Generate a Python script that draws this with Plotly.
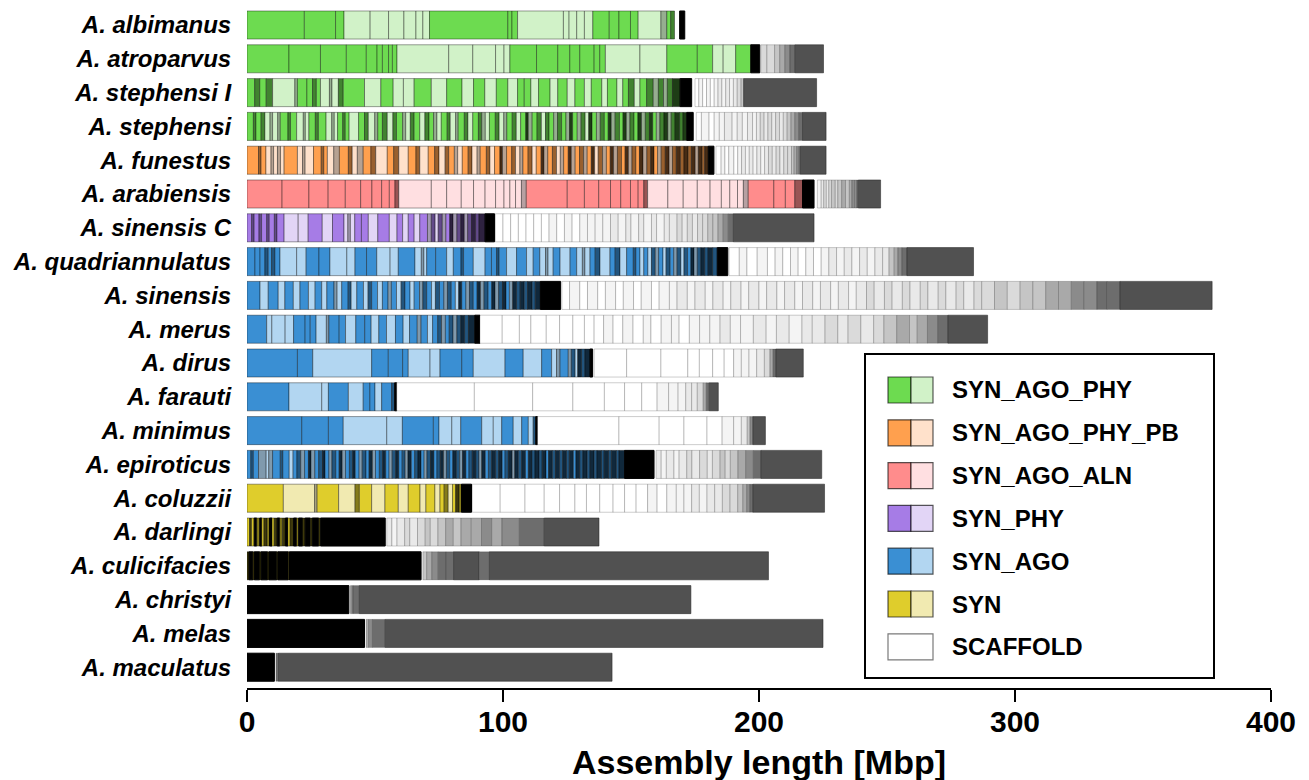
import plotly.graph_objects as go

# ---------------------------------------------------------------- data
SPECIES = [
    "A. albimanus", "A. atroparvus", "A. stephensi I", "A. stephensi",
    "A. funestus", "A. arabiensis", "A. sinensis C", "A. quadriannulatus",
    "A. sinensis", "A. merus", "A. dirus", "A. farauti", "A. minimus",
    "A. epiroticus", "A. coluzzii", "A. darlingi", "A. culicifacies",
    "A. christyi", "A. melas", "A. maculatus",
]
GROUP = [
    "SYN_AGO_PHY", "SYN_AGO_PHY", "SYN_AGO_PHY", "SYN_AGO_PHY",
    "SYN_AGO_PHY_PB", "SYN_AGO_ALN", "SYN_PHY", "SYN_AGO",
    "SYN_AGO", "SYN_AGO", "SYN_AGO", "SYN_AGO", "SYN_AGO",
    "SYN_AGO", "SYN", "SYN", "SYN",
    "SCAFFOLD", "SCAFFOLD", "SCAFFOLD",
]
LEGEND_LABELS = ["SYN_AGO_PHY", "SYN_AGO_PHY_PB", "SYN_AGO_ALN", "SYN_PHY",
                 "SYN_AGO", "SYN", "SCAFFOLD"]
X_TICKS = [0, 100, 200, 300, 400]

# Segment lengths (Mbp) in assembly order, with a kind code per segment:
#   D / L  chromosome-arm scaffolds (alternating dark / light shade)
#   d / l / e  densely packed small scaffolds inside an arm
#   K  unplaced scaffolds packed so tightly they read as black
#   _  empty gap
#   0-8  unplaced SCAFFOLD pieces, digit = density of scaffold boundaries
ALBIMANUS_MBP = [22.4, 12.2, 3.3, 10.2, 7.2, 6.0, 4.7, 2.7, 2.6, 30.6, 1.6, 2.2,
                 17.9, 2.2, 3.0, 3.0, 3.3, 6.4, 3.8, 4.5, 3.0, 8.9, 2.3, 1.5, 1.5,
                 2.0, 2.0]
ALBIMANUS_KIND = "DDD LLLLLL DDD LLLLL DDDD LlDd _K"

ATROPARVUS_MBP = [16.4, 12.3, 10.1, 7.8, 4.2, 2.1, 2.4, 1.5, 1.8,
                  20.2, 9.4, 8.9, 3.3, 2.3,
                  10.4, 8.3, 4.7, 3.9, 5.6, 2.2, 2.2,
                  13.5, 10.5, 11.9, 6.0, 4.1, 4.9, 5.9, 3.5, 0.4,
                  2.4, 3.0, 2.0, 2.0, 2.0, 2.0, 11.1]
ATROPARVUS_KIND = "DDDDDDDDD LLLLL DDDDDDD LL DD LL DK_ 3345678"

STEPHENSI_I_MBP = [3.0, 2.0, 2.5, 2.5, 8.7, 1.0, 3.7, 2.2, 1.5, 1.6,
                   3.5, 1.0, 2.5, 1.9,
                   8.3, 6.4, 4.8, 4.0, 4.2, 6.7, 6.0, 6.0, 4.5, 4.4,
                   4.5, 4.5, 3.8, 2.6, 2.6, 3.0, 4.5, 3.0, 3.7, 3.0,
                   3.7, 2.7, 4.1, 2.2, 3.7, 2.3, 2.2, 2.3, 2.2, 2.6, 2.6,
                   2.0, 2.0, 1.5, 2.0, 3.0, 4.5, 1.3,
                   1.5, 1.5, 1.5, 1.5, 1.5, 1.5, 1.5, 1.5, 1.5, 1.5,
                   1.5, 1.5, 1.0, 28.5]
STEPHENSI_I_KIND = ("DdDd Ll DDdD LlLd"
                    "DLDLLDLDLD LDLDDLDLDL DLDLDLDdLDd"
                    "ldlde K_ 0101012121 2348")

STEPHENSI_MBP = [2.5, 1.0, 2.0, 1.5, 2.0, 1.0, 2.0, 1.0, 3.0, 1.0,
                 2.4, 2.6, 0.8, 1.4, 2.5, 1.2, 3.0, 2.2, 1.0, 1.3,
                 2.0, 1.0, 1.5, 3.7, 2.3, 1.5, 2.5, 1.2, 1.8, 1.9,
                 2.2, 1.4, 2.4, 1.2, 1.8, 1.5, 2.2, 2.0, 1.6, 1.8,
                 1.3, 1.7, 2.3, 1.2, 2.1, 1.0, 2.4, 1.4, 1.9, 2.2,
                 1.3, 1.4, 1.6, 2.3, 1.5, 1.8, 1.2, 2.1, 1.6, 1.7,
                 2.0, 1.0, 1.5, 1.9, 1.7, 1.6, 1.4, 1.8, 1.5, 1.6,
                 1.7, 1.4, 1.2, 1.8, 1.5, 1.6, 1.4, 1.3, 1.7, 1.5,
                 1.6, 1.5, 1.2, 1.5, 1.7, 1.4, 1.3, 1.4, 1.6, 1.5,
                 1.4, 1.5, 1.6, 1.3, 1.4, 1.4, 1.6, 1.5, 1.3, 1.5,
                 1.8, 1.3, 1.5, 2.5, 1.2, 2.0, 3.0, 2.0, 2.0, 2.0,
                 3.0, 2.0, 2.0, 2.0, 2.0, 1.5, 1.5, 1.5, 1.5, 1.5,
                 1.5, 1.5, 1.5, 1.5, 1.5, 1.5, 1.5, 1.5, 9.2]
STEPHENSI_KIND = ("DdDdLlLlDd DLlLDdDLlL DdDLDdLlDd LdDlLdDLdD lLDdLlDdLD "
                  "dlLDdLlDdL DelDdLdDld DleDldLeDl dDeldDeldD eldeDldeld "
                  "edeK_01011 2121212323 232345678")

FUNESTUS_MBP = [4.5, 1.0, 1.9, 2.0, 1.0, 1.5, 1.2, 1.4, 5.2, 2.0,
                1.0, 3.3, 3.0, 1.0, 1.4, 2.5, 2.2, 3.5, 1.5, 2.0,
                2.3, 3.0, 1.9, 4.5, 2.5, 2.0, 3.7, 3.0, 1.5, 3.3,
                2.5, 1.7, 2.4, 1.4, 2.2, 1.3, 1.8, 2.3, 1.5, 2.0,
                1.2, 2.4, 1.4, 1.8, 2.1, 1.0, 1.6, 2.0, 1.5, 1.7,
                1.2, 2.0, 1.6, 1.6, 1.9, 1.1, 1.5, 1.8, 1.6, 1.5,
                1.3, 1.8, 1.2, 1.5, 1.7, 1.6, 1.4, 1.6, 1.3, 1.4,
                1.7, 1.5, 1.5, 1.3, 1.5, 1.6, 1.4, 1.3, 1.4, 1.5,
                1.4, 1.4, 1.5, 1.5, 1.3, 1.4, 1.4, 1.6, 1.5, 1.3,
                1.5, 1.6, 1.4, 1.6, 1.3, 1.5, 1.2, 1.5, 1.0, 1.4,
                2.2, 0.8, 2.0, 1.5, 1.5, 2.0, 1.5, 1.5, 1.5, 1.5,
                1.5, 1.5, 1.5, 1.5, 1.5, 1.5, 1.5, 1.5, 1.5, 1.5,
                1.5, 1.0, 1.0, 1.0, 0.5, 10.0]
FUNESTUS_KIND = ("DdDLlLlLDL lLDdDLlDdL lDdLDdLDdL DdLdDlLDdL lDdLDelDdL "
                 "lDdLDelDdL lDelDdlDeL dlDeldDeld DeldeDldel dededelede "
                 "K_01010121 2121232323 345678")

ARABIENSIS_MBP = [13.7, 10.5, 7.5, 6.7, 6.0, 4.4, 3.8, 3.0, 2.2, 1.5,
                  12.7, 6.0, 5.7, 4.8, 4.5, 4.1, 3.3, 2.3, 2.2, 2.3, 1.9,
                  16.0, 6.7, 5.6, 4.6, 4.0, 3.8, 3.0, 2.2, 1.5,
                  7.9, 6.0, 5.5, 5.0, 4.4, 3.3, 3.0, 2.3, 1.9,
                  10.0, 4.5, 3.7, 3.0, 4.5, 1.3,
                  1.5, 1.0, 1.0, 1.0, 1.0, 1.5, 1.0, 1.5, 1.5, 1.5,
                  1.0, 1.0, 1.0, 0.5, 8.7]
ARABIENSIS_KIND = ("DDDDDDDDDd LLLLLLLLLLl DDDDDDDDd LLLLLLLLl DDDdK_ "
                   "1232343454 56678")

SINENSIS_C_MBP = [1.8, 1.0, 1.9, 1.0, 2.0, 1.0, 2.0, 1.0, 2.8, 5.5,
                  3.9, 5.5, 4.0, 4.5, 1.5, 1.0, 1.7, 2.6, 2.7, 3.7,
                  4.5, 3.0, 2.2, 2.2, 2.3, 2.2, 3.0, 1.5, 1.5, 1.2,
                  1.6, 1.4, 1.5, 1.3, 1.5, 1.5, 1.4, 1.3, 1.5, 1.6,
                  1.3, 2.4, 3.7, 0.3, 3, 3, 3, 3, 3, 3,
                  3, 3, 3, 3, 3, 3, 3, 3, 3, 3,
                  3, 2, 3, 2, 3, 2, 3, 2, 3, 2,
                  2, 2, 2, 2, 2, 2, 2, 2, 2, 2,
                  31.5]
SINENSIS_C_KIND = ("DdDdDdDdDL LDLDLlLDDL DLDLDLDldL dlDeldelde deK_000000 "
                   "0101011112 1212121223 2323344567 8")

QUADRIANNULATUS_MBP = [3.1, 2.0, 1.9, 1.3, 1.3, 1.3, 2.0, 6.5, 3.7, 5.0,
                       4.3, 6.6, 3.2, 4.5, 4.0, 5.2, 3.2, 6.5, 2.5, 1.0,
                       1.1, 3.5, 4.3, 2.6, 3.0, 1.0, 3.8, 4.6, 2.5, 2.0,
                       1.0, 2.9, 3.9, 3.9, 2.6, 2.6, 2.2, 1.0, 2.0, 2.7,
                       3.9, 2.6, 2.2, 1.0, 2.0, 2.0, 1.9, 3.9, 2.0, 1.9,
                       2.6, 2.6, 1.0, 1.6, 1.5, 1.6, 1.4, 1.5, 1.3, 1.7,
                       1.2, 1.6, 1.4, 1.3, 1.5, 1.2, 1.4, 1.3, 1.2, 1.3,
                       1.4, 1.5, 1.3, 1.8, 1.8, 4.1, 0.5, 4.0, 3.0, 4.0,
                       4.0, 3.0, 3.0, 3.0, 3.0, 3.0, 3.0, 3.0,
                       3.0, 3.0, 3.0, 3.0, 3.0, 3.0, 3.0, 3.0, 2.5,
                       2.0, 1.5, 1.5, 2.0, 26.0]
QUADRIANNULATUS_KIND = ("DDDdDdDLLD DLLDDLLDLl LDDLDdDLDD dDLDLDLlLD LDLlLDdLDd "
                        "LDdDLDLdlD LdDldLdDel dededK_010 10101010 "
                        "121212122 4567 8")

SINENSIS_MBP = [5.1, 3.2, 3.9, 2.6, 3.3, 2.6, 3.3, 2.6, 2.6, 2.0,
                2.8, 1.2, 1.8, 2.5, 1.2, 2.2, 2.6, 1.8, 1.4, 2.3,
                1.9, 2.2, 1.3, 2.0, 1.8, 1.5, 2.0, 1.6, 2.1, 1.3,
                1.5, 1.9, 1.5, 1.6, 1.7, 1.4, 1.5, 1.6, 1.3, 1.2,
                1.6, 1.4, 1.5, 1.5, 1.3, 1.4, 1.6, 1.4, 1.3, 1.4,
                1.5, 1.4, 1.3, 1.3, 1.5, 1.4, 1.6, 1.3, 1.8, 1.2,
                2.0, 7.9, 0.5, 3, 4, 3, 4, 3, 4, 3,
                4, 3, 4, 3, 4, 3, 4, 3, 4, 3,
                4, 3, 4, 3, 4, 3, 4, 3, 4, 3,
                4, 3, 4, 3, 4, 3, 4, 3, 4, 3,
                4, 3, 4, 3, 4, 3, 4, 3, 4, 3,
                5, 5, 5, 5, 5, 5, 5, 5, 5, 4,
                5, 36]
SINENSIS_KIND = ("DLDLDLDLDL DlLDdLDLdD LDlDLdDLDl dDLdDldDLe DldDeldDel "
                 "deDlededed eK_0101010 1010112121 2121212121 2121212323 "
                 "2323232323 3434455667 78")

MERUS_MBP = [7.7, 2.0, 5.2, 3.3, 4.5, 2.0, 2.3, 4.0, 1.0, 4.0,
             2.5, 4.0, 3.5, 2.5, 3.0, 3.0, 3.5, 3.0, 2.5, 3.0,
             1.5, 2.5, 2.0, 2.0, 1.5, 1.5, 1.5, 1.5, 1.5, 1.5,
             1.5, 1.5, 2.5, 2.0, 8.7, 6.7, 4.5, 6.0, 5.2, 5.2,
             4.5, 3.8, 3.7, 3.7, 3.8, 4, 4, 3, 4, 4,
             3, 4, 4, 4, 4, 4, 4, 5, 5, 4,
             5, 5, 4, 5, 5, 4, 5, 5, 4, 5,
             5, 3, 4, 4, 4, 15.5]
MERUS_KIND = ("DLLLDDDLlD DLDDLDLDLD lDLDdlDdld edeK000000 0001010101 "
              "1011121121 2122323234 545678")

DIRUS_MBP = [19.7, 6.0, 23.0, 6.5, 5.6, 2.2, 8.5, 3.9, 8.5, 4.5,
             12.4, 7.1, 7.2, 3.9, 1.9, 1.4, 3.2, 1.2, 1.5, 1.0,
             1.5, 1.3, 2.0, 1.0, 0.6, 12.7, 13.4, 10.5, 4.5, 5.2,
             4.5, 3.7, 3.0, 3.0, 3.0, 3.0, 2.2, 1.2, 1.1, 10.7]
DIRUS_KIND = "DDLDDDLLDD LDLDLlDldL edeK_00000 0011123578"

FARAUTI_MBP = [16.4, 12.8, 2.6, 7.8, 5.8, 2.6, 2.0, 2.6, 3.9, 1.2,
               0.8, 30.3, 22.8, 15.7, 12.3, 7.9, 6.7, 6.0, 4.5, 3.7,
               3.0, 2.3, 2.2, 2.3, 1.2, 1.2, 3.5]
FARAUTI_KIND = "DLLDLDDLDd K000000011 1223578"

MINIMUS_MBP = [21.4, 10.4, 5.8, 17.0, 6.1, 12.1, 2.2, 5.0, 3.5, 8.2,
               4.5, 3.3, 4.5, 3.3, 2.6, 1.9, 1.0, 0.7, 31.8, 15.7,
               9.7, 9.0, 5.9, 4.5, 3.0, 2.3, 1.1, 1.1, 4.9]
MINIMUS_KIND = "DDDLLDDLLD LLDLDLdK00 000112468"

EPIROTICUS_MBP = [1.5, 1.0, 2.0, 3.0, 1.0, 1.5, 3.0, 1.0, 2.5, 1.5,
                  1.5, 1.5, 1.5, 1.5, 1.0, 1.5, 1.5, 1.5, 1.0, 1.5,
                  1.2, 1.5, 1.3, 1.2, 1.3, 1.5, 1.3, 1.0, 1.5, 1.2,
                  1.5, 1.2, 1.3, 1.2, 1.5, 1.3, 1.2, 1.3, 1.2, 1.4,
                  1.2, 1.3, 1.2, 1.1, 1.3, 1.3, 1.3, 1.2, 1.2, 1.1,
                  1.4, 1.3, 1.2, 1.3, 1.3, 1.1, 1.3, 1.2, 1.4, 1.3,
                  1.1, 1.3, 1.2, 1.3, 1.4, 1.2, 1.1, 1.4, 1.2, 1.3,
                  1.5, 1.2, 1.4, 1.1, 1.3, 1.5, 1.0, 1.4, 1.3, 1.5,
                  1.1, 1.4, 1.2, 1.6, 1.2, 1.5, 1.0, 1.5, 1.2, 1.6,
                  1.2, 1.5, 1.1, 1.6, 1.0, 1.5, 1.2, 1.7, 1.1, 1.6,
                  1.1, 1.8, 1.0, 1.8, 1.0, 2.0, 1.0, 2.2, 11.5, 0.8,
                  2, 2, 3, 2, 3, 2, 3, 3, 2, 3,
                  2, 2, 3, 3, 3, 3, 23.7]
EPIROTICUS_KIND = ("DdDlLlDdDL DdlDelDdeD ldDelDdeDl dDelDdeDld eDdleDdeDl "
                   "deDdeldDed leDdedleDd edeDdelede DededeDede dedeDedede "
                   "dedededeK_ 2121232323 4345678")

COLUZZII_MBP = [14.2, 12.2, 1.0, 8.4, 6.4, 1.7, 4.8, 5.2, 5.2, 3.9,
                4.6, 2.3, 3.5, 2.0, 1.6, 1.6, 1.7, 1.2, 1.3, 1.0,
                3.9, 0.3, 10.9, 9.7, 7.5, 6.0, 6.0, 4.5, 5.2, 5.2,
                4.5, 4.5, 4.5, 3.7, 3.8, 3.7, 3.0, 3.0, 3.0, 3.0,
                3, 3, 3, 3, 2, 1.5, 1.2, 1.2, 28.0]
COLUZZII_KIND = "DLlDLdDLDL DLDLDdLDed K_00000000 0001011121 223345678"

DARLINGI_MBP = [1.0, 0.8, 1.0, 1.0, 1.2, 0.8, 0.8, 1.2, 1.0, 1.0,
                0.8, 1.2, 1.0, 1.0, 1.2, 1.0, 0.8, 1.4, 1.2, 0.8,
                1.5, 1.0, 2.0, 0.8, 2.5, 0.8, 25.2, 0.6, 2, 2,
                3, 2, 3, 3, 2, 3, 3, 3, 3, 4,
                4, 4, 4, 6.8, 9.7, 21.4]
DARLINGI_KIND = "DeDKdKDedK DeKdeKDeKd KeKeKeK_21 2323434545 565678"

CULICIFACIES_MBP = [0.8, 1.5, 0.6, 2.0, 0.6, 2.5, 0.6, 3.0, 0.5, 4.0,
                    0.5, 51.4, 0.7, 1.5, 2, 2.5, 3, 3, 10, 4,
                    109]
CULICIFACIES_KIND = "eKeKeKeKeK eK_4567787 8"

CHRISTYI_MBP = [39.8, 0.6, 1.0, 2.5, 129.5]
CHRISTYI_KIND = "K_678"

MELAS_MBP = [45.9, 0.6, 1.0, 1.5, 5.0, 171.0]
MELAS_KIND = "K_5678"

MACULATUS_MBP = [10.7, 0.6, 1.0, 130.3]
MACULATUS_KIND = "K_78"

ROWS = [
    (ALBIMANUS_MBP, ALBIMANUS_KIND), (ATROPARVUS_MBP, ATROPARVUS_KIND),
    (STEPHENSI_I_MBP, STEPHENSI_I_KIND), (STEPHENSI_MBP, STEPHENSI_KIND),
    (FUNESTUS_MBP, FUNESTUS_KIND), (ARABIENSIS_MBP, ARABIENSIS_KIND),
    (SINENSIS_C_MBP, SINENSIS_C_KIND), (QUADRIANNULATUS_MBP, QUADRIANNULATUS_KIND),
    (SINENSIS_MBP, SINENSIS_KIND), (MERUS_MBP, MERUS_KIND),
    (DIRUS_MBP, DIRUS_KIND), (FARAUTI_MBP, FARAUTI_KIND),
    (MINIMUS_MBP, MINIMUS_KIND), (EPIROTICUS_MBP, EPIROTICUS_KIND),
    (COLUZZII_MBP, COLUZZII_KIND), (DARLINGI_MBP, DARLINGI_KIND),
    (CULICIFACIES_MBP, CULICIFACIES_KIND), (CHRISTYI_MBP, CHRISTYI_KIND),
    (MELAS_MBP, MELAS_KIND), (MACULATUS_MBP, MACULATUS_KIND),
]

# ---------------------------------------------------------------- styling
PALETTE = {
    "SYN_AGO_PHY": ("#6ddb50", "#d1f2c8"),
    "SYN_AGO_PHY_PB": ("#ffa04e", "#ffe1cb"),
    "SYN_AGO_ALN": ("#ff8c8c", "#ffdfe1"),
    "SYN_PHY": ("#a67ce6", "#e2d5f6"),
    "SYN_AGO": ("#3a8fd3", "#b2d6f1"),
    "SYN": ("#dfcd2c", "#f1eab1"),
    "SCAFFOLD": ("#ffffff", "#ffffff"),
}
GRAYS = {"0": "#ffffff", "1": "#f4f4f4", "2": "#e9e9e9", "3": "#dadada",
         "4": "#c5c5c5", "5": "#a9a9a9", "6": "#8b8b8b", "7": "#6d6d6d",
         "8": "#515151"}
FONT = "Liberation Sans, Arial, Helvetica, sans-serif"


def shade(hex_color, t):
    """Blend a colour toward black by fraction t."""
    h = hex_color.lstrip("#")
    r, g, b = (int(h[i:i + 2], 16) for i in (0, 2, 4))
    return "rgb({},{},{})".format(int(r * (1 - t)), int(g * (1 - t)), int(b * (1 - t)))


def style(kind, group):
    dark, light = PALETTE[group]
    if kind == "_":
        return "rgba(0,0,0,0)", "rgba(0,0,0,0)", 0
    if kind == "K":
        return "#000000", "#000000", 1
    if kind in GRAYS:
        edge = "rgba(40,40,40,0.55)" if kind == "8" else "rgba(0,0,0,0.2)"
        return GRAYS[kind], edge, 1
    fill = {"D": shade(dark, 0.0), "L": shade(light, 0.0),
            "d": shade(dark, 0.4), "l": shade(light, 0.28),
            "e": shade(dark, 0.72)}[kind]
    return fill, "rgba(0,0,0,0.38)", 1


ys, bases, lengths, fills, edges, widths = [], [], [], [], [], []
for row, (group, (mbp, kind)) in enumerate(zip(GROUP, ROWS)):
    codes = kind.replace(" ", "")
    if len(codes) != len(mbp):
        raise ValueError("{}: {} lengths vs {} kinds".format(SPECIES[row], len(mbp), len(codes)))
    start = 0.0
    for length, code in zip(mbp, codes):
        fill, edge, w = style(code, group)
        ys.append(row)
        bases.append(start)
        lengths.append(length)
        fills.append(fill)
        edges.append(edge)
        widths.append(w)
        start += length

fig = go.Figure(go.Bar(
    y=ys, x=lengths, base=bases, orientation="h", width=0.83,
    marker=dict(color=fills, line=dict(color=edges, width=widths)),
    hoverinfo="skip", showlegend=False,
))

# ---------------------------------------------------------------- layout
L_PX, R_PX, T_PX, B_PX = 247, 1271, 5, 688   # plot area in page pixels


def px_x(px):
    return (px - L_PX) / (R_PX - L_PX)


def px_y(py):
    return (B_PX - py) / (B_PX - T_PX)


fig.update_layout(
    width=1309, height=780,
    margin=dict(l=L_PX, r=1309 - R_PX, t=T_PX, b=780 - B_PX, pad=0),
    plot_bgcolor="white", paper_bgcolor="white",
    font=dict(family=FONT, color="black"),
    xaxis=dict(
        range=[0, 400], tickvals=X_TICKS, showgrid=False, zeroline=False,
        showline=True, linecolor="black", linewidth=2,
        ticks="outside", ticklen=12, tickwidth=2, tickcolor="black",
        ticklabelstandoff=-6,
        tickfont=dict(family=FONT, size=30, weight="bold", color="black"),
        automargin=False,
    ),
    yaxis=dict(
        range=[19.615, -0.592], tickvals=list(range(len(SPECIES))), ticktext=SPECIES,
        showgrid=False, zeroline=False, showline=False,
        ticks="outside", ticklen=10, tickcolor="rgba(0,0,0,0)",
        tickfont=dict(family=FONT, size=24, weight="bold", style="italic", color="black"),
        automargin=False,
    ),
)

# legend drawn as shapes so each entry shows its dark/light pair
shapes = [dict(type="rect", xref="paper", yref="paper",
               x0=px_x(865), x1=px_x(1214), y0=px_y(678), y1=px_y(354),
               line=dict(color="black", width=2), fillcolor="white", layer="above")]
annotations = []
for k, label in enumerate(LEGEND_LABELS):
    cy = 390 + 42.8 * k
    y0, y1 = px_y(cy + 13), px_y(cy - 13)
    dark, light = PALETTE[label]
    if label == "SCAFFOLD":
        shapes.append(dict(type="rect", xref="paper", yref="paper",
                           x0=px_x(888), x1=px_x(933), y0=y0, y1=y1,
                           fillcolor="white", line=dict(color="#7a7a7a", width=1.2),
                           layer="above"))
    else:
        for x0, x1, c in ((888, 911, dark), (911, 933, light)):
            shapes.append(dict(type="rect", xref="paper", yref="paper",
                               x0=px_x(x0), x1=px_x(x1), y0=y0, y1=y1,
                               fillcolor=c, line=dict(color="rgba(0,0,0,0.65)", width=1.2),
                               layer="above"))
    annotations.append(dict(xref="paper", yref="paper", x=px_x(950), y=px_y(cy),
                            xanchor="left", yanchor="middle", showarrow=False,
                            text=label,
                            font=dict(family=FONT, size=24, weight="bold", color="black")))

# x-axis title placed below the tick labels
annotations.append(dict(xref="paper", yref="paper", x=0.5, y=px_y(762),
                        xanchor="center", yanchor="middle", showarrow=False,
                        text="Assembly length [Mbp]",
                        font=dict(family=FONT, size=34, weight="bold", color="black")))

fig.update_layout(shapes=shapes, annotations=annotations)
fig.write_html("out.html")
